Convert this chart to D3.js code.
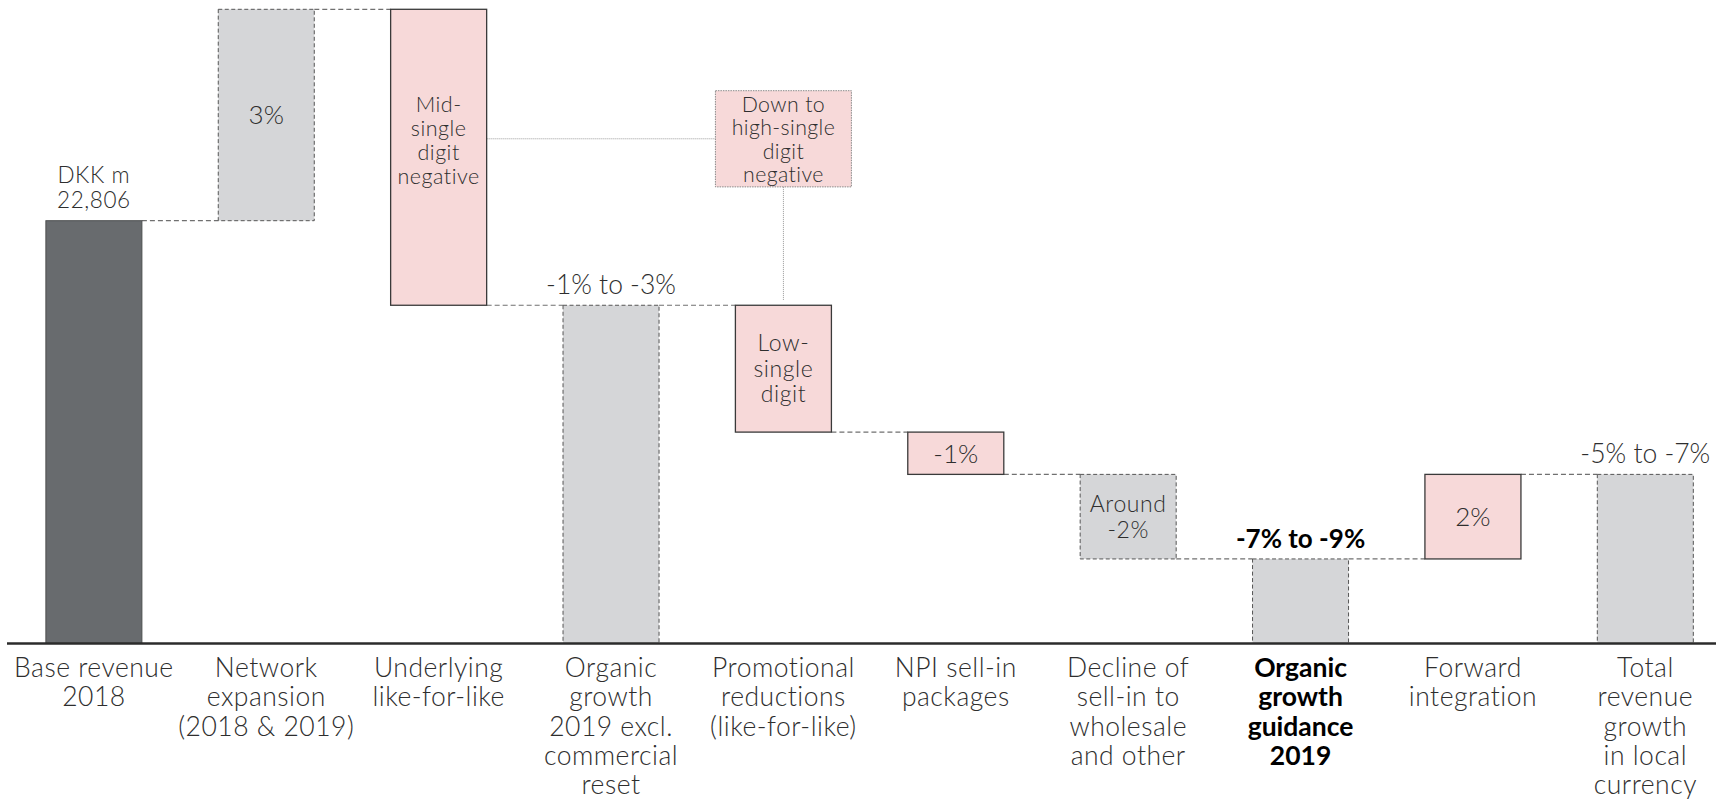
<!DOCTYPE html>
<html>
<head>
<meta charset="utf-8">
<script src="https://cdn.jsdelivr.net/npm/d3@7"></script>
<style>
  html, body { margin: 0; padding: 0; background: #fff; }
  svg { display: block; }
  text { font-family: Lato, Inter, "Noto Sans", sans-serif; font-weight: 300; fill: #2e2e2e; }
</style>
</head>
<body>
<svg id="chart" width="1716" height="801"></svg>
<script>
// ---------------- data ----------------
const categories = [
  "Base revenue 2018",
  "Network expansion (2018 & 2019)",
  "Underlying like-for-like",
  "Organic growth 2019 excl. commercial reset",
  "Promotional reductions (like-for-like)",
  "NPI sell-in packages",
  "Decline of sell-in to wholesale and other",
  "Organic growth guidance 2019",
  "Forward integration",
  "Total revenue growth in local currency"
];
const categoryLines = [
  ["Base revenue", "2018"],
  ["Network", "expansion", "(2018 & 2019)"],
  ["Underlying", "like-for-like"],
  ["Organic", "growth", "2019 excl.", "commercial", "reset"],
  ["Promotional", "reductions", "(like-for-like)"],
  ["NPI sell-in", "packages"],
  ["Decline of", "sell-in to", "wholesale", "and other"],
  ["Organic", "growth", "guidance", "2019"],
  ["Forward", "integration"],
  ["Total", "revenue", "growth", "in local", "currency"]
];
// schematic (not-to-scale) step sizes, in the chart's own index units
const kinds  = ["start", "step", "step", "subtotal", "step", "step", "step", "subtotal", "step", "subtotal"];
const deltas = [20, 10, -14, null, -6, -2, -4, null, 4, null];
const groups = ["base", "neutral", "accent", "neutral", "accent", "accent", "neutral", "neutral", "accent", "neutral"];
const valueLabels = [
  ["DKK m", "22,806"],
  ["3%"],
  ["Mid-", "single", "digit", "negative"],
  ["-1% to -3%"],
  ["Low-", "single", "digit"],
  ["-1%"],
  ["Around", "-2%"],
  ["-7% to -9%"],
  ["2%"],
  ["-5% to -7%"]
];
const boldIndex = 7;
const calloutLines = ["Down to", "high-single", "digit", "negative"];
const yDomain = [0, 30];

// ---------------- build waterfall ----------------
let level = 0;
const bars = categories.map((c, i) => {
  let y0, y1;
  if (kinds[i] === "start") { y0 = 0; y1 = deltas[i]; level = y1; }
  else if (kinds[i] === "subtotal") { y0 = 0; y1 = level; }
  else { y0 = level; y1 = level + deltas[i]; level = y1; }
  return { i, cat: c, kind: kinds[i], group: groups[i], lo: Math.min(y0, y1), hi: Math.max(y0, y1), end: level, delta: deltas[i] };
});

const svg = d3.select("#chart");
const x = d3.scaleBand().domain(categories).range([11.4, 1727.8]).paddingInner(0.443).paddingOuter(0.2);
const y = d3.scaleLinear().domain(yDomain).range([643.5, 9.3]);
const bw = x.bandwidth();

const styles = {
  base:    { fill: "#686b6e", stroke: "#4d4f4f", dash: null, sw: 1 },
  neutral: { fill: "#d5d6d8", stroke: "#555", dash: "4,2.5", sw: 1 },
  accent:  { fill: "#f7d9d9", stroke: "#3a3a3a", dash: null, sw: 1.3 }
};

// connectors
const conn = svg.append("g");
for (let i = 0; i < bars.length - 1; i++) {
  const b = bars[i], n = bars[i + 1];
  conn.append("line")
    .attr("x1", x(b.cat) + bw).attr("x2", x(n.cat))
    .attr("y1", y(b.end)).attr("y2", y(b.end))
    .attr("stroke", "#707070").attr("stroke-width", 1.2).attr("stroke-dasharray", "5,3");
}

// callout annotation (dotted)
const calloutIdx = 4;
const cx = x(categories[calloutIdx]) + bw / 2;
const cW = 136, cTop = y(26.15), cBot = y(21.6), cMid = (cTop + cBot) / 2;
svg.append("line").attr("x1", x(categories[2]) + bw).attr("x2", cx - cW / 2)
  .attr("y1", cMid).attr("y2", cMid)
  .attr("stroke", "#999").attr("stroke-width", 1).attr("stroke-dasharray", "1,1");
svg.append("line").attr("x1", cx).attr("x2", cx)
  .attr("y1", cBot).attr("y2", y(bars[calloutIdx].hi) - 5)
  .attr("stroke", "#999").attr("stroke-width", 1).attr("stroke-dasharray", "1,1");

// bars
svg.append("g").selectAll("rect").data(bars).join("rect")
  .attr("x", d => x(d.cat)).attr("width", bw)
  .attr("y", d => y(d.hi)).attr("height", d => y(d.lo) - y(d.hi))
  .attr("fill", d => styles[d.group].fill)
  .attr("stroke", d => styles[d.group].stroke)
  .attr("stroke-width", d => styles[d.group].sw)
  .attr("stroke-dasharray", d => styles[d.group].dash);

// callout box
svg.append("rect").attr("x", cx - cW / 2).attr("y", cTop).attr("width", cW).attr("height", cBot - cTop)
  .attr("fill", "#f7d9d9").attr("stroke", "#8a8a8a").attr("stroke-width", 1).attr("stroke-dasharray", "1.5,1");
const ct = svg.append("text").attr("text-anchor", "middle")
  .style("font-size", "21.3px").style("letter-spacing", "0.4px");
calloutLines.forEach((l, k) => ct.append("tspan").attr("x", cx).attr("y", cTop + 21 + k * 23.5).text(l));

// axis
const axisG = svg.append("g").attr("transform", `translate(0,${y(0)})`)
  .call(d3.axisBottom(x).tickSize(0).tickFormat(""));
axisG.select(".domain").attr("d", `M7,0H1716`).attr("stroke", "#2b2b2b").attr("stroke-width", 2.6);
axisG.selectAll(".tick").each(function (c, i) {
  const t = d3.select(this).append("text").attr("text-anchor", "middle")
    .style("font-size", "26.5px")
    .style("letter-spacing", i === boldIndex ? "0px" : "0.5px")
    .style("font-weight", i === boldIndex ? 700 : 300)
    .style("fill", i === boldIndex ? "#000" : "#2e2e2e");
  categoryLines[i].forEach((l, k) => t.append("tspan").attr("x", 0).attr("y", 33.5 + k * 29.3).text(l));
});

// value labels
const lab = svg.append("g");
bars.forEach((b, i) => {
  const lines = valueLabels[i];
  const bx = x(b.cat) + bw / 2;
  const t = lab.append("text").attr("text-anchor", "middle");
  if (i === boldIndex) t.style("font-weight", 700).style("fill", "#000");
  let fs, lh, firstBase, ls = 0;
  if (b.kind === "start") {
    fs = 22.5; lh = 25; firstBase = y(b.hi) - 38; ls = 0.6;
  } else if (b.kind === "subtotal") {
    fs = i === boldIndex ? 26 : 26.5; lh = 24; firstBase = y(b.hi) - 11;
  } else if (i === 2) {
    fs = 21.5; lh = 23.8; firstBase = y(b.hi) + 103; ls = 0.5;
  } else {
    fs = lines.length > 1 ? 23 : 26; lh = lines.length > 1 ? 25.5 : 24;
    ls = lines.length > 1 ? 0.6 : 0;
    const mid = (y(b.hi) + y(b.lo)) / 2;
    firstBase = mid - (lines.length - 1) * lh / 2 + fs * 0.36;
  }
  t.style("font-size", fs + "px").style("letter-spacing", ls + "px");
  lines.forEach((l, k) => t.append("tspan").attr("x", bx).attr("y", firstBase + k * lh).text(l));
});
</script>
</body>
</html>
